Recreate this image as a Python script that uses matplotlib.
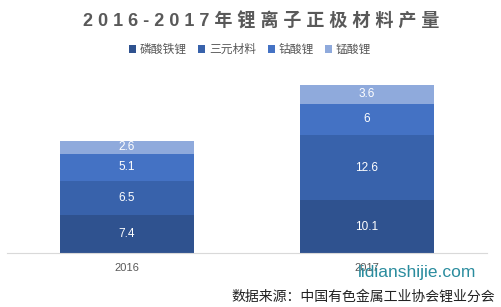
import matplotlib
matplotlib.use('Agg')
import matplotlib.pyplot as plt
import numpy as np

years = ['2016', '2017']
series = ['磷酸铁锂', '三元材料', '钴酸锂', '锰酸锂']
lfp = [7.4, 10.1]
ncm = [6.5, 12.6]
lco = [5.1, 6.0]
lmo = [2.6, 3.6]
labels = [['7.4', '10.1'], ['6.5', '12.6'], ['5.1', '6'], ['2.6', '3.6']]

colors = ['#2F528F', '#3862AB', '#4472C4', '#8FAADC']
gray = '#595959'
fonts = ['Liberation Sans', 'Noto Sans CJK SC', 'DejaVu Sans']
plt.rcParams['font.family'] = fonts

fig = plt.figure(figsize=(5.01, 3.07), dpi=100)
ax = fig.add_axes([7 / 501, 54 / 307, 480 / 501, 182 / 307])

x = np.arange(len(years))
bottom = np.zeros(len(years))
handles = []
for i, vals in enumerate([lfp, ncm, lco, lmo]):
	vals = np.array(vals)
	bars = ax.bar(x, vals, 0.558, bottom=bottom, color=colors[i], label=series[i])
	handles.append(bars)
	for j in range(len(years)):
		ax.text(x[j], bottom[j] + vals[j] / 2, labels[i][j], ha='center', va='center',
			color='white', fontsize=8.5)
	bottom += vals

ax.set_xlim(-0.5, 1.5)
ax.set_ylim(0, 35)
ax.set_yticks([])
ax.set_xticks(x)
ax.set_xticklabels(years, color=gray, fontsize=8)
ax.tick_params(axis='x', length=0, pad=7)
for s in ['top', 'right', 'left']:
	ax.spines[s].set_visible(False)
ax.spines['bottom'].set_color('#D9D9D9')

# title with wide letter spacing
fig.text(261 / 501, 1 - 22 / 307, ' '.join('2016-2017年锂离子正极材料产量'),
	ha='center', va='center', fontsize=13, fontweight='bold', color=gray)

leg = fig.legend(handles=handles, labels=series, loc='center', bbox_to_anchor=(250 / 501, 1 - 50 / 307),
	ncol=4, frameon=False, fontsize=8.5, handlelength=0.6, handleheight=0.6,
	handletextpad=0.3, columnspacing=1.0)
for t in leg.get_texts():
	t.set_color(gray)

fig.text(417 / 501, 1 - 272 / 307, 'lidianshijie.com', ha='center', va='center',
	fontsize=12.5, color='#2A8C9E')
fig.text(495 / 501, 1 - 297 / 307, '数据来源：中国有色金属工业协会锂业分会', ha='right', va='center',
	fontsize=10, color='#222222', family=['Noto Sans CJK SC', 'DejaVu Sans'])

fig.savefig('out.png', dpi=100)
